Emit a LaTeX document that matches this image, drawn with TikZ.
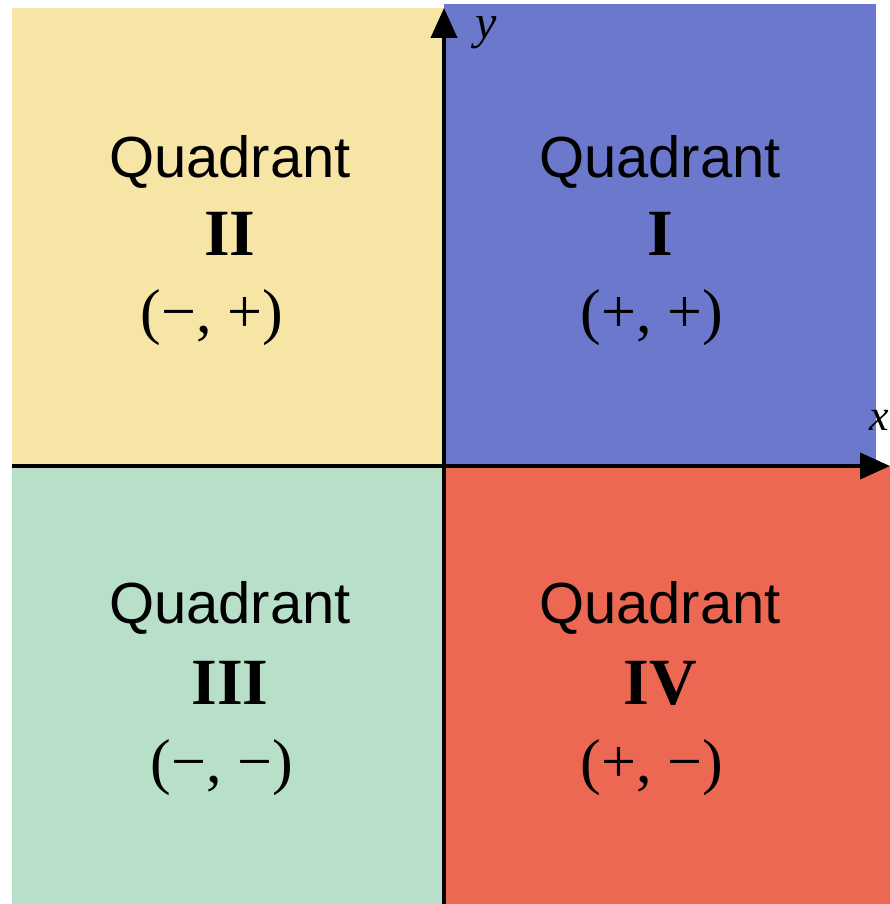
\documentclass[tikz,border=0pt]{standalone}
\usepackage{fontspec}
\setmainfont{Liberation Serif}
\newfontfamily\quadsans{Liberation Sans}
\usetikzlibrary{arrows.meta}
\definecolor{qone}{RGB}{108,120,204}
\definecolor{qtwo}{RGB}{247,229,165}
\definecolor{qthree}{RGB}{184,223,200}
\definecolor{qfour}{RGB}{236,104,82}
\tikzset{
  qword/.style={font=\quadsans\fontsize{58}{60}\selectfont, inner sep=0pt},
  qnum/.style={font=\bfseries\fontsize{66}{68}\selectfont, inner sep=0pt},
  qsign/.style={font=\fontsize{62}{64}\selectfont, inner sep=0pt},
  axis/.style={line width=4pt, -{Triangle[length=30pt,width=26pt]}},
}
\begin{document}
\begin{tikzpicture}[x=1pt,y=-1pt]
\useasboundingbox (0,0) rectangle (890,904);
\fill[white] (0,0) rectangle (890,904);
\fill[qtwo] (12,8) rectangle (444,466);
\fill[qone] (444,4) rectangle (876,466);
\fill[qthree] (12,466) rectangle (444,904);
\fill[qfour] (444,466) rectangle (890,904);
\coordinate (o) at (444,466);
\coordinate (xl) at (12,466);
\coordinate (xr) at (890,466);
\coordinate (yb) at (444,904);
\coordinate (yt) at (444,8);
\draw[line width=4pt] (xl) -- (o);
\draw[axis] (o) -- (xr);
\draw[line width=4pt] (yb) -- (o);
\draw[axis] (o) -- (yt);
\node[font=\itshape\fontsize{48}{50}\selectfont, inner sep=0pt] (ylab) at (486,33) {y};
\node[font=\itshape\fontsize{44}{46}\selectfont, inner sep=0pt, anchor=east] (xlab) at (889,420) {x};
% Quadrant II
\node[qword] (q2a) at (230,162) {Quadrant};
\node[qnum] (q2b) at (230,234) {II};
\node[qsign] (q2c) at (212,318) {(\textminus, +)};
% Quadrant I
\node[qword] (q1a) at (660,162) {Quadrant};
\node[qnum] (q1b) at (660,234) {I};
\node[qsign] (q1c) at (652,318) {(+, +)};
% Quadrant III
\node[qword] (q3a) at (230,608) {Quadrant};
\node[qnum] (q3b) at (230,683) {III};
\node[qsign] (q3c) at (222,768) {(\textminus, \textminus)};
% Quadrant IV
\node[qword] (q4a) at (660,608) {Quadrant};
\node[qnum] (q4b) at (660,683) {IV};
\node[qsign] (q4c) at (652,768) {(+, \textminus)};
\end{tikzpicture}
\end{document}
